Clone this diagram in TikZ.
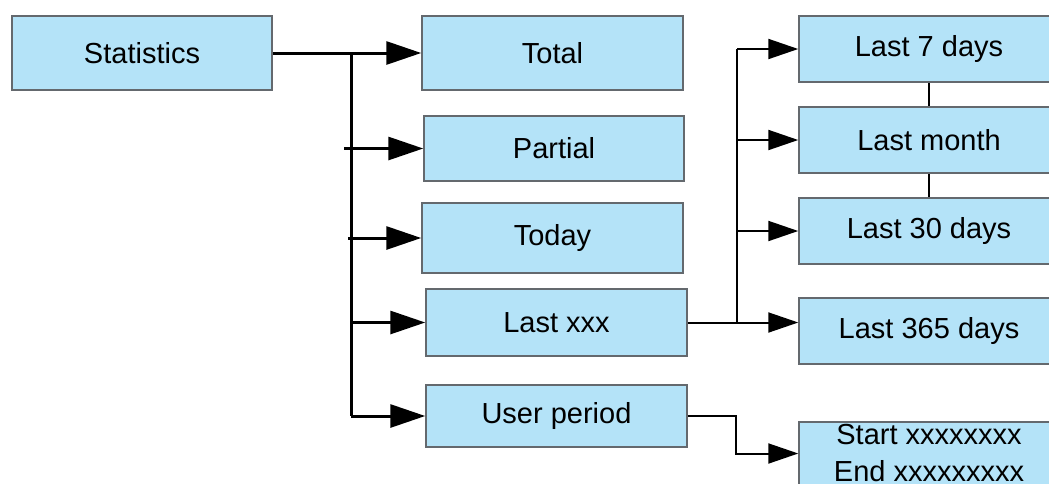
\documentclass[tikz,border=0pt]{standalone}
\usepackage{fontspec}
\setmainfont{Liberation Sans}
\usetikzlibrary{arrows.meta}
\definecolor{boxfill}{RGB}{180,227,248}
\definecolor{boxline}{RGB}{100,105,110}
\tikzset{
  box/.style={draw=boxline, line width=1.5pt, fill=boxfill, rectangle, inner sep=0pt,
    font=\fontsize{29}{37}\selectfont, align=center},
  bigarrow/.style={line width=3pt, -{Triangle[length=35pt,width=23pt]}},
  bigline/.style={line width=3pt},
  smallarrow/.style={line width=2pt, -{Triangle[length=30pt,width=20pt]}},
  smallline/.style={line width=2pt},
  thinline/.style={line width=1.2pt}
}
\begin{document}
\begin{tikzpicture}[x=1pt,y=-1pt]
\useasboundingbox (0,0) rectangle (1049,483);
\clip (0,0) rectangle (1049,483);
% boxes
\node[box, minimum width=260pt, minimum height=74pt] (stat) at (142,53) {Statistics};
\node[box, minimum width=261pt, minimum height=74pt] (total) at (552.5,53) {Total};
\node[box, minimum width=260pt, minimum height=65pt] (partial) at (554,148.5) {Partial};
\node[box, minimum width=261pt, minimum height=70pt] (today) at (552.5,238) {Today};
\node[box, minimum width=261pt, minimum height=67pt] (lastx) at (556.5,322.5) {Last xxx};
\node[box, minimum width=261pt, minimum height=62pt] (user) at (556.5,416) {User period};
\node[box, minimum width=260pt, minimum height=66pt] (l7) at (929,49) {Last 7 days};
\node[box, minimum width=260pt, minimum height=66pt] (lm) at (929,140) {Last month};
\node[box, minimum width=260pt, minimum height=66pt] (l30) at (929,231) {Last 30 days};
\node[box, minimum width=260pt, minimum height=66pt] (l365) at (929,331) {Last 365 days};
\node[box, minimum width=260pt, minimum height=63pt] (se) at (929,453.5) {Start xxxxxxxx\\End xxxxxxxxx};
% left tree
\coordinate (t0) at (351,53);
\coordinate (t1) at (351,416);
\draw[bigarrow] (stat.east) -- (total.west);
\draw[bigline] (t0) -- (t1);
\draw[bigarrow] (t1) -- (user.west);
\draw[bigarrow] (344,148.5) coordinate (p0) -- (partial.west);
\draw[bigarrow] (348,238) coordinate (d0) -- (today.west);
\draw[bigarrow] (351,322.5) coordinate (x0) -- (lastx.west);
% right tree
\coordinate (r0) at (737,49);
\coordinate (r1) at (737,322.5);
\draw[smallline] (lastx.east) -- (r1) -- (r0);
\draw[smallarrow] (r0) -- (l7.west);
\draw[smallarrow] (737,140) coordinate (r2) -- (lm.west);
\draw[smallarrow] (737,231) coordinate (r3) -- (l30.west);
\draw[smallarrow] (r1) -- (l365.west |- r1);
% user period
\coordinate (u0) at (736,416);
\coordinate (u1) at (736,453.5);
\draw[smallarrow] (user.east) -- (u0) -- (u1) -- (se.west);
% thin links
\draw[thinline] (l7.south) -- (lm.north);
\draw[thinline] (lm.south) -- (l30.north);
\end{tikzpicture}
\end{document}
